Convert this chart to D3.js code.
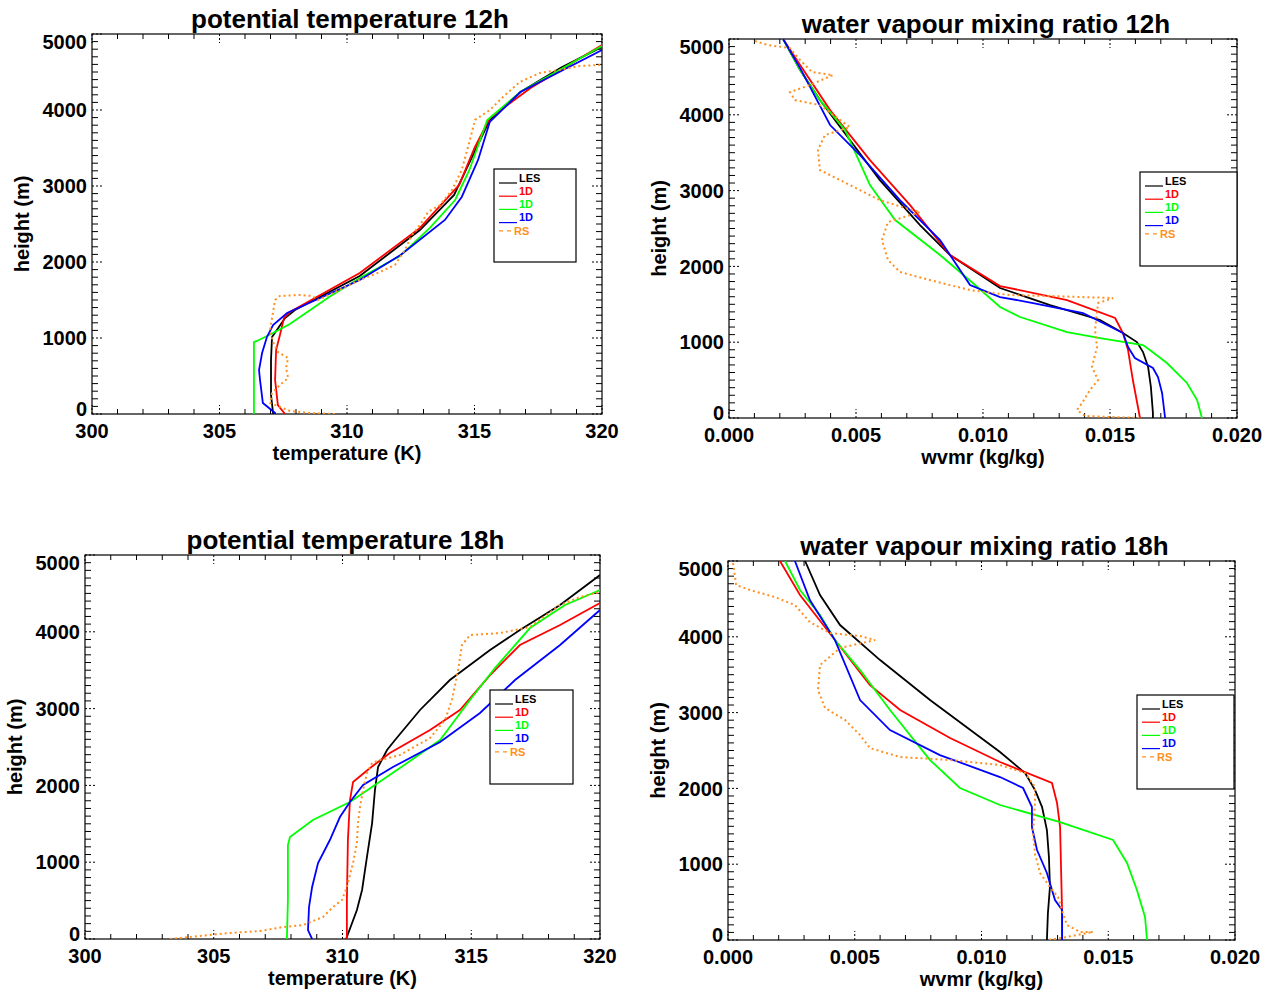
<!DOCTYPE html>
<html>
<head>
<meta charset="utf-8">
<script src="https://cdn.jsdelivr.net/npm/d3@7"></script>
<style>
  body { margin: 0; background: #fff; }
  svg { display: block; font-family: "Liberation Sans", Arial, sans-serif; font-weight: bold; }
</style>
</head>
<body>
<svg id="chart" width="1271" height="996"></svg>
<script>
// ---- data: [value, height (m)] ----
// potential temperature 12h (K)
const th12LES = [[307.1,0],[307.1,13],[307.02,250],[307.02,711],[307.06,1013],[307.25,1105],[307.57,1263],[307.96,1369],[310.5,1816],[312.86,2421],[314.2,2882],[315.0,3450],[315.6,3869],[316.8,4237],[318.4,4560],[320,4830]];
const th12Red = [[307.57,0],[307.29,118],[307.18,447],[307.22,842],[307.37,1040],[307.53,1263],[307.76,1342],[310.5,1855],[312.86,2448],[314.4,3014],[315.0,3500],[315.6,3895],[317.2,4290],[320,4856]];
const th12Green = [[306.35,0],[306.35,947],[306.47,961],[307.1,1066],[307.76,1184],[309.3,1540],[310.5,1790],[312.08,2080],[313.25,2448],[314.24,2816],[314.8,3211],[315.5,3869],[316.8,4237],[320,4843]];
const th12Blue = [[307.18,0],[307.18,13],[306.7,145],[306.59,447],[306.55,579],[306.67,803],[306.86,1013],[307.1,1171],[307.65,1329],[310.5,1763],[312.1,2092],[313.84,2553],[314.5,2856],[315.14,3343],[315.6,3843],[316.8,4237],[320,4790]];
const th12RS = [[309.53,0],[308.55,13],[307.76,40],[307.49,79],[306.98,145],[307.06,276],[307.37,382],[307.69,474],[307.61,605],[307.69,737],[307.29,816],[307.1,947],[306.98,1105],[307.06,1263],[307.18,1500],[307.37,1553],[308.16,1566],[308.63,1553],[308.86,1500],[309.53,1605],[310.5,1763],[311.3,1869],[311.88,1961],[312.27,2158],[312.55,2356],[312.86,2487],[313.18,2658],[313.65,2750],[314.12,2948],[314.5,3211],[314.82,3606],[315.02,3869],[315.6,4000],[316.2,4198],[316.78,4369],[317.57,4488],[318.35,4527],[319.14,4580],[320,4593]];

// water vapour mixing ratio 12h (g/kg, drawn as kg/kg)
const q12LES = [[2.13,5000],[2.8,4590],[3.58,4194],[4.76,3667],[5.94,3139],[7.52,2546],[8.7,2150],[10.67,1715],[12.64,1490],[14.61,1293],[15.51,1121],[16.06,1002],[16.3,870],[16.5,673],[16.61,409],[16.69,66],[16.69,0]];
const q12Red = [[2.13,5000],[2.8,4656],[3.98,4062],[5.55,3403],[7.13,2809],[8.7,2150],[10.67,1741],[13.31,1556],[15.2,1319],[15.51,1121],[15.71,897],[15.9,501],[16.1,145],[16.18,0]];
const q12Green = [[2.13,5000],[2.8,4590],[3.58,4194],[4.57,3799],[5.55,3073],[6.54,2612],[8.31,2150],[9.69,1754],[10.67,1464],[11.46,1332],[13.31,1134],[14.61,1055],[16.3,963],[16.57,897],[17.24,725],[18.03,462],[18.43,237],[18.62,0]];
const q12Blue = [[2.13,5000],[2.8,4616],[3.98,3865],[5.16,3469],[6.73,2875],[8.31,2348],[9.49,1754],[10.67,1596],[11.97,1517],[13.94,1385],[14.33,1319],[15.51,1121],[15.71,936],[15.98,791],[16.69,660],[16.89,541],[17.05,330],[17.17,0]];
const q12RS = [[1.02,4973],[1.54,4920],[2.4,4880],[2.8,4722],[3.27,4564],[4.09,4524],[3.19,4392],[2.4,4300],[2.6,4194],[3.58,4128],[4.37,3931],[4.76,3838],[3.78,3733],[3.5,3535],[3.58,3271],[4.76,3073],[5.94,2875],[6.93,2770],[7.52,2717],[6.26,2585],[6.02,2348],[6.26,2084],[6.73,1926],[7.91,1820],[9.49,1688],[11.06,1622],[12.64,1609],[13.82,1596],[15.12,1583],[14.53,1517],[14.41,1161],[14.49,936],[14.29,673],[14.53,501],[14.21,369],[13.9,198],[13.7,106],[14.02,26],[16.18,0]];

// potential temperature 18h (K)
const th18LES = [[310.14,0],[310.56,378],[310.76,638],[310.95,1068],[311.15,1510],[311.26,1940],[311.38,2239],[311.73,2461],[312.04,2591],[313.01,2982],[314.17,3372],[315.73,3763],[316.89,4023],[318.45,4349],[320,4739]];
const th18Red = [[310.17,0],[310.17,508],[310.21,1289],[310.29,1810],[310.41,2044],[310.6,2096],[311.07,2226],[311.84,2422],[313.4,2721],[314.56,2982],[315.73,3437],[316.89,3828],[318.45,4088],[320,4375]];
const th18Green = [[307.84,0],[307.88,508],[307.88,1224],[307.96,1328],[308.85,1549],[310.29,1784],[312.23,2226],[313.79,2591],[314.95,3112],[315.92,3528],[317.28,4049],[318.64,4349],[320,4544]];
const th18Blue = [[308.82,0],[308.66,117],[308.7,417],[308.82,677],[309.05,990],[309.51,1289],[309.9,1588],[310.29,1784],[310.8,2005],[311.96,2239],[313.79,2565],[315.34,2943],[316.7,3372],[318.45,3828],[320,4284]];
const th18RS = [[303.3,0],[304.47,39],[305.63,78],[306.8,104],[307.69,156],[308.47,182],[309.24,286],[309.63,417],[309.98,508],[310.17,677],[310.41,990],[310.56,1250],[310.6,1510],[310.68,1719],[310.8,1940],[310.95,2161],[311.15,2292],[311.46,2331],[312.23,2396],[313.4,2617],[313.98,2851],[314.25,3112],[314.49,3502],[314.64,3828],[314.95,3958],[316.12,3984],[317.28,4062],[318.45,4349],[319.22,4453],[320,4518]];

// water vapour mixing ratio 18h (g/kg, drawn as kg/kg)
const q18LES = [[3.04,5000],[3.63,4551],[4.42,4155],[6.0,3693],[7.97,3166],[10.73,2480],[11.72,2203],[12.11,1979],[12.39,1754],[12.58,1451],[12.66,1095],[12.7,699],[12.62,356],[12.58,0]];
const q18Red = [[2.05,5000],[2.84,4551],[4.22,3957],[5.6,3363],[6.79,3034],[8.76,2664],[10.73,2348],[12.78,2071],[12.98,1807],[13.1,1490],[13.18,356],[13.18,0]];
const q18Green = [[2.25,5000],[2.84,4617],[3.63,4287],[4.22,3957],[5.21,3561],[6.39,3034],[7.97,2374],[9.15,2005],[10.73,1781],[13.1,1556],[15.19,1319],[15.74,1016],[16.13,660],[16.45,303],[16.53,0]];
const q18Blue = [[2.64,5000],[3.23,4485],[4.22,3957],[5.21,3166],[6.39,2770],[8.36,2440],[10.73,2150],[11.64,2005],[11.99,1754],[11.99,1490],[12.19,1187],[12.58,884],[12.9,528],[13.18,396],[13.18,0]];
const q18RS = [[0.2,4973],[0.32,4683],[0.87,4617],[1.85,4524],[2.64,4419],[3.23,4194],[4.02,4049],[5.21,4010],[5.8,3957],[4.42,3852],[3.63,3627],[3.55,3297],[3.83,3060],[4.62,2902],[5.21,2704],[5.6,2532],[6.79,2414],[8.76,2374],[10.73,2308],[11.72,2203],[12.11,2018],[12.11,1807],[12.03,1411],[12.11,1134],[12.31,884],[12.7,699],[13.02,567],[13.21,356],[13.37,198],[13.89,106],[14.4,106],[13.37,40],[12.58,0]];

const legendLabels = ['LES', '1D', '1D', '1D', 'RS'];
const seriesColors = ['#000000', '#ff0000', '#00ff00', '#0000ff', '#ff9020'];
const thTicks = [300, 305, 310, 315, 320];
const qTicks = [0, 5, 10, 15, 20];
const hTicks = [0, 1000, 2000, 3000, 4000, 5000];

// panel layout (pixel boxes: left, top, right, bottom)
const panels = [
  { title: 'potential temperature 12h', xTitle: 'temperature (K)', box: [92, 34, 602, 414],
    xTicks: thTicks, fmt: d => d3.format('d')(d), series: [th12LES, th12Red, th12Green, th12Blue, th12RS],
    legend: [402, 135, 82, 93] },
  { title: 'water vapour mixing ratio 12h', xTitle: 'wvmr (kg/kg)', box: [729, 39, 1237, 418],
    xTicks: qTicks, fmt: d => d3.format('.3f')(d / 1000), series: [q12LES, q12Red, q12Green, q12Blue, q12RS],
    legend: [411, 133, 97, 94] },
  { title: 'potential temperature 18h', xTitle: 'temperature (K)', box: [85, 555, 600, 939],
    xTicks: thTicks, fmt: d => d3.format('d')(d), series: [th18LES, th18Red, th18Green, th18Blue, th18RS],
    legend: [405, 135, 83, 94] },
  { title: 'water vapour mixing ratio 18h', xTitle: 'wvmr (kg/kg)', box: [728, 561, 1235, 940],
    xTicks: qTicks, fmt: d => d3.format('.3f')(d / 1000), series: [q18LES, q18Red, q18Green, q18Blue, q18RS],
    legend: [409, 134, 97, 94] }
];

const svg = d3.select('#chart');

panels.forEach(p => {
  const [x0, y0, x1, y1] = p.box;
  const xDom = d3.extent(p.xTicks);
  const x = d3.scaleLinear().domain(xDom).range([x0, x1]);
  const y = d3.scaleLinear().domain([0, 5000]).range([y1, y0]);
  const g = svg.append('g');

  // clip
  const clipId = 'clip' + x0 + y0;
  svg.append('clipPath').attr('id', clipId)
    .append('rect').attr('x', x0).attr('y', y0).attr('width', x1 - x0).attr('height', y1 - y0);

  // minor ticks on all four sides
  const xStep = (p.xTicks[1] - p.xTicks[0]) / 5;
  const xMinor = d3.range(xDom[0], xDom[1] + xStep / 2, xStep).filter(v => !p.xTicks.some(t => Math.abs(t - v) < 1e-9));
  const yMinor = d3.range(0, 5001, 100).filter(v => v % 1000 !== 0);
  const ticks = g.append('g').attr('stroke', '#000').attr('stroke-width', 1);
  xMinor.forEach(v => {
    ticks.append('line').attr('x1', x(v)).attr('x2', x(v)).attr('y1', y1).attr('y2', y1 - 5);
    ticks.append('line').attr('x1', x(v)).attr('x2', x(v)).attr('y1', y0).attr('y2', y0 + 5);
  });
  yMinor.forEach(v => {
    ticks.append('line').attr('x1', x0).attr('x2', x0 + 6).attr('y1', y(v)).attr('y2', y(v));
    ticks.append('line').attr('x1', x1).attr('x2', x1 - 6).attr('y1', y(v)).attr('y2', y(v));
  });
  // major ticks (dotted, as in the original)
  const major = g.append('g').attr('stroke', '#000').attr('stroke-width', 1).attr('stroke-dasharray', '2,2');
  p.xTicks.forEach(v => {
    major.append('line').attr('x1', x(v)).attr('x2', x(v)).attr('y1', y1).attr('y2', y1 - 9);
    major.append('line').attr('x1', x(v)).attr('x2', x(v)).attr('y1', y0).attr('y2', y0 + 9);
  });
  hTicks.forEach(v => {
    major.append('line').attr('x1', x0).attr('x2', x0 + 10).attr('y1', y(v)).attr('y2', y(v));
    major.append('line').attr('x1', x1).attr('x2', x1 - 10).attr('y1', y(v)).attr('y2', y(v));
  });

  // frame
  g.append('rect').attr('x', x0).attr('y', y0).attr('width', x1 - x0).attr('height', y1 - y0)
    .attr('fill', 'none').attr('stroke', '#000').attr('stroke-width', 1.2);

  // tick labels
  g.selectAll('.xl').data(p.xTicks).enter().append('text')
    .attr('x', d => x(d)).attr('y', y1 + 24)
    .attr('text-anchor', 'middle').attr('font-size', 20).text(p.fmt);
  g.selectAll('.yl').data(hTicks).enter().append('text')
    .attr('x', x0 - 5)
    .attr('y', d => Math.min(Math.max(y(d), y0 + 8), y1 - 5))
    .attr('dy', '0.36em')
    .attr('text-anchor', 'end').attr('font-size', 20).text(d => d);

  // titles
  g.append('text').attr('x', (x0 + x1) / 2 + 3).attr('y', y0 - 6.5)
    .attr('text-anchor', 'middle').attr('font-size', 26).text(p.title);
  g.append('text').attr('x', (x0 + x1) / 2).attr('y', y1 + 46)
    .attr('text-anchor', 'middle').attr('font-size', 20).text(p.xTitle);
  g.append('text')
    .attr('transform', `translate(${x0 - 63},${(y0 + y1) / 2}) rotate(-90)`)
    .attr('text-anchor', 'middle').attr('font-size', 20).text('height (m)');

  // profiles
  const line = d3.line().x(d => x(d[0])).y(d => y(d[1]));
  const curves = g.append('g').attr('clip-path', `url(#${clipId})`).attr('fill', 'none');
  p.series.forEach((s, i) => {
    curves.append('path').datum(s).attr('d', line)
      .attr('stroke', seriesColors[i])
      .attr('stroke-width', i === 4 ? 2 : 1.8)
      .attr('stroke-dasharray', i === 4 ? '2,3' : null);
  });

  // legend
  const [lx, ly, lw, lh] = p.legend;
  const leg = g.append('g').attr('transform', `translate(${x0 + lx},${y0 + ly})`);
  leg.append('rect').attr('width', lw).attr('height', lh)
    .attr('fill', '#fff').attr('stroke', '#000').attr('stroke-width', 1.2);
  legendLabels.forEach((lab, i) => {
    const ty = 9 + i * 13.2;
    const isRS = i === 4;
    leg.append('line')
      .attr('x1', 5).attr('x2', isRS ? 18 : 23)
      .attr('y1', isRS ? ty : ty + 5).attr('y2', isRS ? ty : ty + 5)
      .attr('stroke', seriesColors[i]).attr('stroke-width', 1.2)
      .attr('stroke-dasharray', isRS ? '4,4' : null);
    leg.append('text').attr('x', isRS ? 20 : 25).attr('y', ty).attr('dy', '0.35em')
      .attr('font-size', 11).attr('fill', seriesColors[i]).text(lab);
  });
});
</script>
</body>
</html>
